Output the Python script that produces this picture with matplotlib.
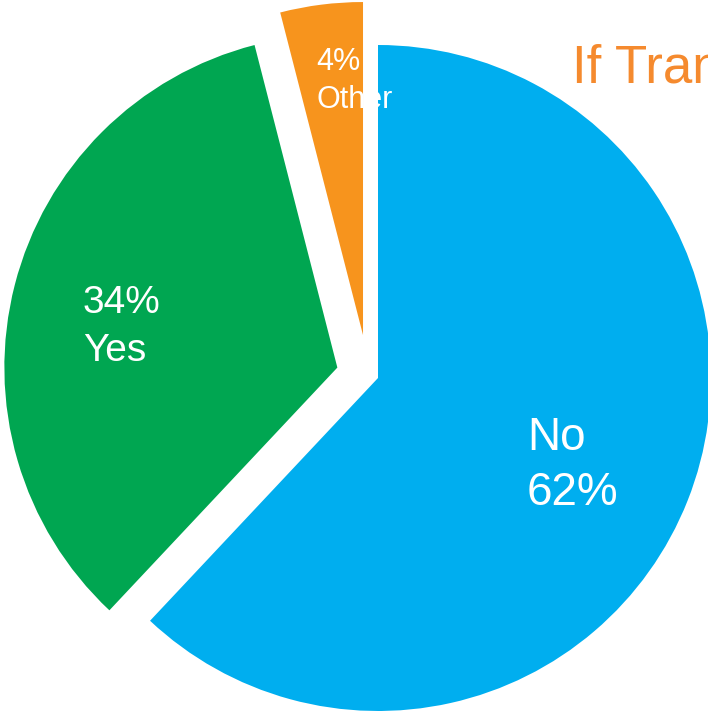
import matplotlib.pyplot as plt

labels = ["No", "Yes", "Other"]
values = [62, 34, 4]
colors = ["#00AEEF", "#00A651", "#F7941D"]
title = "If Transit"

fig = plt.figure(figsize=(7.08, 7.11), dpi=100)
ax = fig.add_axes([0, 0, 1, 1])
wedges, _ = ax.pie(values, colors=colors, startangle=90, counterclock=False,
                   explode=[0, 0.126, 0], radius=1.0,
                   wedgeprops=dict(linewidth=0))
# the small slice is pulled out a bit further up than its bisector
wedges[2].set_center((-0.045, 0.129))

ax.set_aspect("equal")
ax.set_xlim(-378 / 333, 330 / 333)
ax.set_ylim(-333 / 333, 378 / 333)
ax.axis("off")

font = "Liberation Sans"
# label text, one line at a time (value, name)
ax.text(-0.886, 0.195, f"{values[1]}%", color="white", fontsize=28, family=font, va="baseline")
ax.text(-0.886, 0.051, labels[1], color="white", fontsize=28, family=font, va="baseline")
ax.text(0.447, -0.216, labels[0], color="white", fontsize=33, family=font, va="baseline")
ax.text(0.447, -0.381, f"{values[0]}%", color="white", fontsize=33, family=font, va="baseline")
ax.text(-0.186, 0.925, f"{values[2]}%", color="white", fontsize=22, family=font, va="baseline")
ax.text(-0.186, 0.811, labels[2], color="white", fontsize=22, family=font, va="baseline")

ax.text(0.582, 0.886, title, color="#F58A2E", fontsize=38, family=font, va="baseline")

fig.savefig("out.png", dpi=100)
